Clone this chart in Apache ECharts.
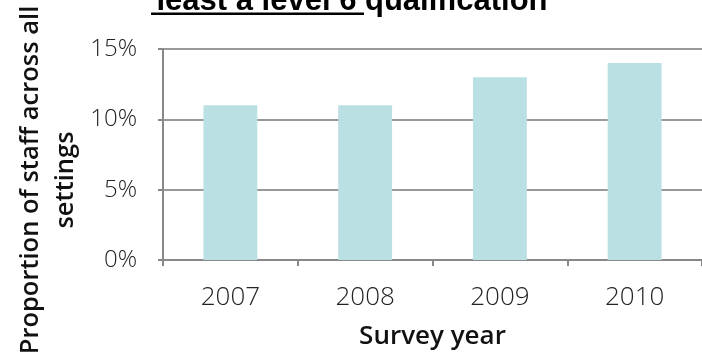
<!DOCTYPE html>
<html><head><meta charset="utf-8">
<script src="https://cdn.jsdelivr.net/npm/echarts@6/dist/echarts.min.js"></script>
<style>html,body{margin:0;padding:0;background:#fff}#c{width:702px;height:358px}</style>
</head><body><div id="c"></div>
<script>
const categories = ['2007', '2008', '2009', '2010'];
const values = [11, 11, 13, 14];
const titleText = 'least a level 6 qualification';
const xName = 'Survey year';
const yName = 'Proportion of staff across all\nsettings';

const chart = echarts.init(document.getElementById('c'), null, {renderer: 'canvas'});
chart.setOption({
  animation: false,
  grid: {left: 163, right: -1, top: 49, bottom: 98, containLabel: false},
  graphic: [
    {type: 'text', x: 352, y: 17,
     style: {text: titleText, font: 'bold 31px "Liberation Sans", Arial, sans-serif', fill: '#000',
             align: 'center', verticalAlign: 'bottom'}},
    {type: 'rect', shape: {x: 151, y: 12.5, width: 213, height: 2.5}, style: {fill: '#000'}},
    {type: 'text', x: 48, y: 180, rotation: Math.PI / 2,
     style: {text: yName, font: '600 25.5px "Open Sans", sans-serif', fill: '#111',
             align: 'center', verticalAlign: 'middle', lineHeight: 35}}
  ],
  xAxis: {
    type: 'category', data: categories,
    name: xName, nameLocation: 'middle', nameGap: 64,
    nameTextStyle: {fontFamily: 'Open Sans', fontWeight: 600, fontSize: 26, color: '#111'},
    axisLine: {lineStyle: {color: '#888', width: 2}},
    axisTick: {show: true, length: 6, lineStyle: {color: '#888', width: 2}},
    axisLabel: {margin: 25, fontFamily: 'Open Sans', fontWeight: 300, fontSize: 26, color: '#222'}
  },
  yAxis: {
    type: 'value', min: 0, max: 15, interval: 5,
    axisLine: {show: true, lineStyle: {color: '#888', width: 2}},
    axisTick: {show: true, length: 5, lineStyle: {color: '#888', width: 2}},
    splitLine: {lineStyle: {color: '#999', width: 2}},
    axisLabel: {margin: 26, formatter: '{value}%', fontFamily: 'Open Sans', fontWeight: 300, fontSize: 24, color: '#222'}
  },
  series: [{
    type: 'bar', data: values, barWidth: '40%',
    itemStyle: {color: '#bae0e3'}
  }]
});
</script></body></html>
